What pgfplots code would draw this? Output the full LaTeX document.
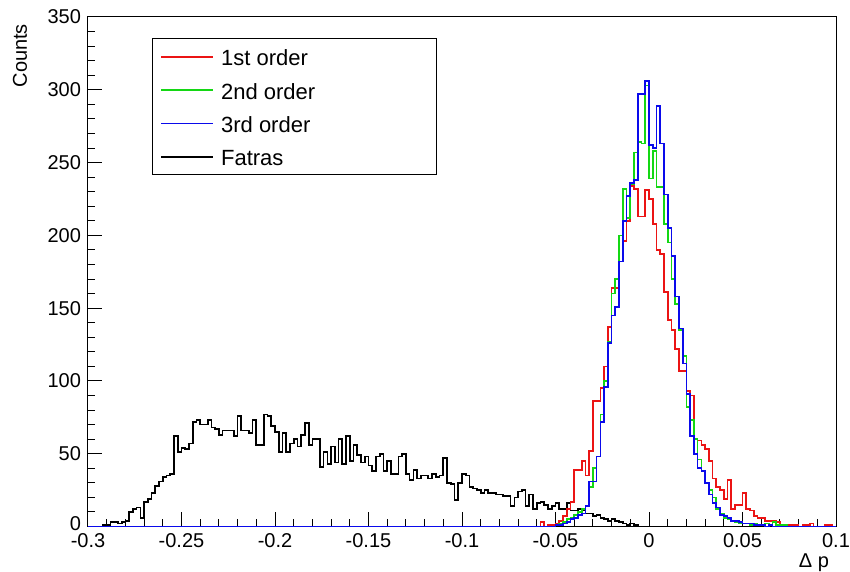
\documentclass[border=0pt]{standalone}
\usepackage{fontspec}
\setmainfont{Liberation Sans}
\usepackage{pgfplots}
\usepackage{pgfplotstable}
\pgfplotsset{compat=1.18}

\definecolor{hred}{RGB}{235,20,20}
\definecolor{hgreen}{RGB}{20,215,20}
\definecolor{hblue}{RGB}{10,10,235}

% bin width 0.002, x = left edge of bin
\pgfplotstableread{
x y
-0.300 0
-0.292 1
-0.290 1
-0.288 3
-0.286 3
-0.284 2
-0.282 3
-0.280 4
-0.278 10
-0.276 12
-0.274 13
-0.272 6
-0.270 17
-0.268 19
-0.266 23
-0.264 28
-0.262 31
-0.260 34
-0.258 35
-0.256 36
-0.254 62
-0.252 51
-0.250 54
-0.248 53
-0.246 57
-0.244 72
-0.242 73
-0.240 70
-0.238 70
-0.236 73
-0.234 68
-0.232 67
-0.230 63
-0.228 66
-0.226 66
-0.224 66
-0.222 62
-0.220 76
-0.218 66
-0.216 66
-0.214 64
-0.212 73
-0.210 56
-0.208 56
-0.206 77
-0.204 76
-0.202 69
-0.200 65
-0.198 51
-0.196 64
-0.194 51
-0.192 57
-0.190 60
-0.188 55
-0.186 63
-0.184 71
-0.182 56
-0.180 60
-0.178 60
-0.176 41
-0.174 51
-0.172 43
-0.170 55
-0.168 44
-0.166 60
-0.164 43
-0.162 62
-0.160 45
-0.158 56
-0.156 49
-0.154 44
-0.152 48
-0.150 42
-0.148 38
-0.146 48
-0.144 50
-0.142 38
-0.140 45
-0.138 36
-0.136 36
-0.134 48
-0.132 50
-0.130 36
-0.128 32
-0.126 39
-0.124 33
-0.122 35
-0.120 35
-0.118 33
-0.116 36
-0.114 34
-0.112 35
-0.110 47
-0.108 30
-0.106 29
-0.104 18
-0.102 30
-0.100 36
-0.098 35
-0.096 27
-0.094 26
-0.092 25
-0.090 23
-0.088 25
-0.086 23
-0.084 23
-0.082 22
-0.080 22
-0.078 21
-0.076 21
-0.074 14
-0.072 20
-0.070 24
-0.068 25
-0.066 14
-0.064 22
-0.062 12
-0.060 16
-0.058 17
-0.056 15
-0.054 12
-0.052 14
-0.050 16
-0.048 12
-0.046 12
-0.044 16
-0.042 11
-0.040 11
-0.038 12
-0.036 11
-0.034 9
-0.032 9
-0.030 7
-0.028 8
-0.026 6
-0.024 5
-0.022 4
-0.020 5
-0.018 4
-0.016 3
-0.014 2
-0.012 1
-0.010 2
-0.008 1
-0.006 0
0.100 0
}\fatras

\pgfplotstableread{
x y
-0.300 0
-0.058 3
-0.056 0
-0.054 1
-0.052 1
-0.050 2
-0.048 4
-0.046 7
-0.044 12
-0.042 17
-0.040 39
-0.038 39
-0.036 45
-0.034 35
-0.032 52
-0.030 86
-0.028 86
-0.026 95
-0.024 110
-0.022 137
-0.020 164
-0.018 164
-0.016 200
-0.014 196
-0.012 210
-0.010 234
-0.008 232
-0.006 213
-0.004 213
-0.002 231
0.000 225
0.002 208
0.004 190
0.006 187
0.008 161
0.010 142
0.012 135
0.014 122
0.016 107
0.018 107
0.020 93
0.022 90
0.024 60
0.026 59
0.028 56
0.030 53
0.032 45
0.034 33
0.036 27
0.038 25
0.040 19
0.042 32
0.044 12
0.046 15
0.048 15
0.050 23
0.052 12
0.054 11
0.056 7
0.058 6
0.060 6
0.062 4
0.064 4
0.066 4
0.068 3
0.070 1
0.072 1
0.074 1
0.076 1
0.078 1
0.080 0
0.082 1
0.084 1
0.086 2
0.088 0
0.094 1
0.096 1
0.098 0
0.100 0
}\first

\pgfplotstableread{
x y
-0.300 0
-0.050 1
-0.048 2
-0.046 3
-0.044 5
-0.042 6
-0.040 8
-0.038 10
-0.036 12
-0.034 14
-0.032 27
-0.030 40
-0.028 48
-0.026 77
-0.024 100
-0.022 127
-0.020 160
-0.018 170
-0.016 200
-0.014 232
-0.012 212
-0.010 235
-0.008 257
-0.006 264
-0.004 263
-0.002 303
0.000 239
0.002 258
0.004 233
0.006 233
0.008 208
0.010 195
0.012 170
0.014 153
0.016 135
0.018 117
0.020 82
0.022 73
0.024 60
0.026 46
0.028 38
0.030 30
0.032 25
0.034 20
0.036 12
0.038 9
0.040 6
0.042 5
0.044 4
0.046 3
0.048 2
0.050 2
0.052 2
0.054 1
0.056 2
0.058 1
0.060 1
0.062 2
0.064 1
0.066 3
0.068 1
0.070 1
0.072 1
0.074 0
0.100 0
}\second

\pgfplotstableread{
x y
-0.300 0
-0.050 1
-0.048 1
-0.046 2
-0.044 3
-0.042 5
-0.040 6
-0.038 8
-0.036 9
-0.034 14
-0.032 31
-0.030 31
-0.028 48
-0.026 72
-0.024 96
-0.022 126
-0.020 145
-0.018 151
-0.016 182
-0.014 210
-0.012 227
-0.010 236
-0.008 238
-0.006 297
-0.004 297
-0.002 306
0.000 262
0.002 260
0.004 289
0.006 263
0.008 228
0.010 205
0.012 186
0.014 158
0.016 136
0.018 112
0.020 91
0.022 62
0.024 50
0.026 40
0.028 38
0.030 30
0.032 22
0.034 16
0.036 13
0.038 8
0.040 7
0.042 6
0.044 4
0.046 4
0.048 3
0.050 2
0.052 2
0.054 2
0.056 1
0.058 1
0.060 1
0.062 0
0.064 1
0.066 0
0.100 0
}\third

\begin{document}
\begin{tikzpicture}
\useasboundingbox (-44pt,-22.75pt) rectangle (381pt,263.25pt);
\begin{axis}[
    scale only axis,
    width=374pt, height=254.75pt,
    xmin=-0.3, xmax=0.1,
    ymin=0, ymax=350,
    xtick={-0.3,-0.25,-0.2,-0.15,-0.1,-0.05,0,0.05,0.1},
    ytick={0,50,100,150,200,250,300,350},
    yticklabels={\raisebox{3pt}{0},50,100,150,200,250,300,350},
    minor x tick num=4, minor y tick num=4,
    tick align=inside,
    xtick pos=left, ytick pos=left,
    major tick length=7pt, minor tick length=3.75pt,
    axis line style={line width=0.5pt},
    every tick/.style={black, line width=0.5pt},
    scaled x ticks=false,
    /pgf/number format/assume math mode=true,
    xticklabel style={/pgf/number format/fixed, /pgf/number format/precision=2},
    tick label style={font=\fontsize{10}{12}\selectfont},
    xlabel={Δ p}, ylabel={Counts},
    every axis x label/.style={at={(axis description cs:1,-0.0707)}, anchor=east, font=\fontsize{10}{12}\selectfont},
    every axis y label/.style={at={(axis description cs:-0.0909,1)}, anchor=east, rotate=90, font=\fontsize{10}{12}\selectfont},
    legend style={at={(axis description cs:0.0852,0.9582)}, anchor=north west,
        draw=black, line width=0.5pt, fill=white,
        inner xsep=4pt, inner ysep=3pt, row sep=4.65pt, column sep=3.8pt,
        nodes={inner sep=0pt, text height=10.5pt, text depth=1.5pt},
        font=\fontsize{11}{13}\selectfont},
    legend cell align=left,
    legend image code/.code={\draw[#1] (0pt,0pt) -- (25.8pt,0pt);},
]
\addlegendimage{hred, line width=0.85pt}
\addlegendentry{\makebox[103.8pt][l]{1st order}}
\addlegendimage{hgreen, line width=0.85pt}
\addlegendentry{\makebox[103.8pt][l]{2nd order}}
\addlegendimage{hblue, line width=0.85pt}
\addlegendentry{\makebox[103.8pt][l]{3rd order}}
\addlegendimage{black, line width=0.85pt}
\addlegendentry{\makebox[103.8pt][l]{Fatras}}

\addplot[const plot, black, line width=0.85pt, forget plot] table[x=x, y=y] {\fatras};
\addplot[const plot, hred, line width=0.85pt, forget plot] table[x=x, y=y] {\first};
\addplot[const plot, hgreen, line width=0.85pt, forget plot] table[x=x, y=y] {\second};
\addplot[const plot, hblue, line width=0.85pt, forget plot] table[x=x, y=y] {\third};
\end{axis}
\end{tikzpicture}
\end{document}
